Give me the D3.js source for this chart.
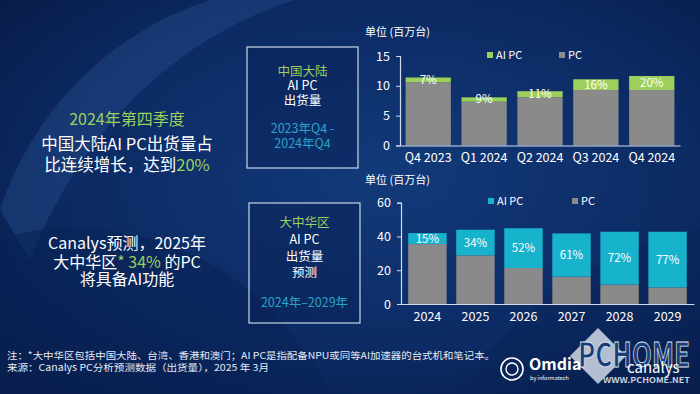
<!DOCTYPE html>
<html>
<head>
<meta charset="utf-8">
<script src="https://cdn.jsdelivr.net/npm/d3@7"></script>
<style>
  html, body { margin: 0; padding: 0; background: #0b2558; }
  svg { display: block; }
  text { font-family: "Noto Sans CJK SC", "Noto Sans", sans-serif; }
</style>
</head>
<body>
<script>
// 中国大陆 季度出货量 (百万台)
var quarters = ["Q4 2023", "Q1 2024", "Q2 2024", "Q3 2024", "Q4 2024"];
var cnPC = [10.6, 7.35, 8.1, 9.3, 9.3];
var cnAI = [0.8, 0.72, 1.0, 1.8, 2.35];
var cnShare = ["7%", "9%", "11%", "16%", "20%"];
var cnTicks = [0, 5, 10, 15];

// 大中华区 年度预测 (百万台)
var years = ["2024", "2025", "2026", "2027", "2028", "2029"];
var gcPC = [35.5, 28.8, 21.3, 16.2, 11.5, 9.8];
var gcAI = [6.5, 15.2, 23.6, 25.6, 31.3, 33.0];
var gcShare = ["15%", "34%", "52%", "61%", "72%", "77%"];
var gcTicks = [0, 20, 40, 60];

var W = 700, H = 394;
var green = "#9ccf5c", cyan = "#17b2cc", gray = "#8a8a8a";

var svg = d3.select("body").append("svg")
  .attr("width", W).attr("height", H);

// 背景
var defs = svg.append("defs");
var bg = defs.append("radialGradient").attr("id", "bg")
  .attr("cx", "55%").attr("cy", "45%").attr("r", "75%");
bg.append("stop").attr("offset", "0%").attr("stop-color", "#123a7a");
bg.append("stop").attr("offset", "60%").attr("stop-color", "#0c2a63");
bg.append("stop").attr("offset", "100%").attr("stop-color", "#071a45");
svg.append("rect").attr("width", W).attr("height", H).attr("fill", "url(#bg)");

// 装饰弧线
svg.append("path")
  .attr("d", "M0,210 C40,90 140,10 250,-10 L330,-10 C200,20 90,110 30,260 Z")
  .attr("fill", "#2a5796").attr("opacity", 0.35);
svg.append("path")
  .attr("d", "M0,240 C60,215 180,225 260,300 C300,340 320,370 330,394 L0,394 Z")
  .attr("fill", "#0a2256").attr("opacity", 0.55);
svg.append("path")
  .attr("d", "M460,394 C520,300 600,250 700,230 L700,394 Z")
  .attr("fill", "#0a2154").attr("opacity", 0.35);

// 左侧文字
var left = svg.append("g").attr("text-anchor", "middle");
left.append("text").attr("x", 127).attr("y", 125)
  .attr("font-size", 16).attr("fill", green).text("2024年第四季度");
left.append("text").attr("x", 127).attr("y", 150)
  .attr("font-size", 16.5).attr("fill", "#fff").text("中国大陆AI PC出货量占");
var l3 = left.append("text").attr("x", 127).attr("y", 171)
  .attr("font-size", 16.5).attr("fill", "#fff");
l3.append("tspan").text("比连续增长，达到");
l3.append("tspan").attr("fill", green).text("20%");

left.append("text").attr("x", 127).attr("y", 249)
  .attr("font-size", 16).attr("fill", "#fff").text("Canalys预测，2025年");
var l5 = left.append("text").attr("x", 127).attr("y", 268)
  .attr("font-size", 16).attr("fill", "#fff");
l5.append("tspan").text("大中华区");
l5.append("tspan").attr("fill", green).text("* 34%");
l5.append("tspan").text(" 的PC");
left.append("text").attr("x", 127).attr("y", 285)
  .attr("font-size", 16).attr("fill", "#fff").text("将具备AI功能");

// 标题框
function titleBox(x, y, w, h, lines) {
  var g = svg.append("g");
  g.append("rect").attr("x", x).attr("y", y).attr("width", w).attr("height", h)
    .attr("fill", "#0a2257").attr("fill-opacity", 0.5)
    .attr("stroke", "#c9d6e8").attr("stroke-width", 1.2);
  g.selectAll("text").data(lines).enter().append("text")
    .attr("x", x + w / 2).attr("y", function(d) { return d.y; })
    .attr("text-anchor", "middle").attr("font-size", 12.5)
    .attr("fill", function(d) { return d.c; })
    .text(function(d) { return d.t; });
}
titleBox(247, 47, 111, 121, [
  {t: "中国大陆", y: 76, c: green},
  {t: "AI PC", y: 90, c: "#fff"},
  {t: "出货量", y: 105, c: "#fff"},
  {t: "2023年Q4 -", y: 133, c: "#2aa3c8"},
  {t: "2024年Q4", y: 148, c: "#2aa3c8"}
]);
titleBox(249, 203, 111, 120, [
  {t: "大中华区", y: 227, c: green},
  {t: "AI PC", y: 244, c: "#fff"},
  {t: "出货量", y: 261, c: "#fff"},
  {t: "预测", y: 277, c: "#fff"},
  {t: "2024年–2029年", y: 307, c: "#2aa3c8"}
]);

// 堆叠柱状图
function stackChart(opt) {
  var g = svg.append("g");
  var x = d3.scaleBand().domain(opt.cats).range(opt.xr)
    .paddingInner(opt.pi).paddingOuter(opt.po);
  var y = d3.scaleLinear().domain(opt.yd).range(opt.yr);

  g.append("text").attr("x", opt.unitX).attr("y", opt.unitY)
    .attr("font-size", 11).attr("fill", "#fff").text("单位 (百万台)");

  var rows = opt.cats.map(function(c, i) {
    return {cat: c, pc: opt.pc[i], ai: opt.ai[i], share: opt.share[i]};
  });
  var stack = d3.stack().keys(["pc", "ai"])(rows);
  var colors = {pc: gray, ai: opt.aiColor};

  g.selectAll("g.layer").data(stack).enter().append("g")
    .attr("fill", function(d) { return colors[d.key]; })
    .selectAll("rect").data(function(d) { return d; }).enter().append("rect")
    .attr("x", function(d) { return x(d.data.cat); })
    .attr("width", x.bandwidth())
    .attr("y", function(d) { return y(d[1]); })
    .attr("height", function(d) { return y(d[0]) - y(d[1]); });

  // 占比标签, 放在AI段中间
  g.selectAll("text.lbl").data(stack[1]).enter().append("text")
    .attr("x", function(d) { return x(d.data.cat) + x.bandwidth() / 2; })
    .attr("y", function(d) { return (y(d[0]) + y(d[1])) / 2 + 4; })
    .attr("text-anchor", "middle").attr("font-size", 11.5).attr("fill", "#fff")
    .text(function(d) { return d.data.share; });

  var yAxis = g.append("g").attr("transform", "translate(" + opt.xr[0] + ",0)")
    .call(d3.axisLeft(y).tickValues(opt.ticks).tickSize(4).tickPadding(6));
  yAxis.select(".domain").attr("stroke", "#cfdcef").attr("stroke-width", 1.2);
  yAxis.selectAll(".tick line").attr("stroke", "#cfdcef");
  yAxis.selectAll("text").attr("fill", "#fff").attr("font-size", 12.5)
    .attr("font-family", "Noto Sans CJK SC");

  var xAxis = g.append("g").attr("transform", "translate(0," + opt.yr[0] + ")")
    .call(d3.axisBottom(x).tickSize(0).tickPadding(8));
  xAxis.select(".domain").attr("stroke", "#cfdcef").attr("stroke-width", 1.2);
  xAxis.selectAll("text").attr("fill", "#fff").attr("font-size", 12.5)
    .attr("font-family", "Noto Sans CJK SC");

  // 图例
  var lg = g.append("g");
  lg.append("rect").attr("x", opt.lgX[0]).attr("y", opt.lgY - 5)
    .attr("width", 6).attr("height", 6).attr("fill", opt.aiColor);
  lg.append("text").attr("x", opt.lgX[0] + 9).attr("y", opt.lgY + 2)
    .attr("font-size", 11).attr("fill", "#fff").text("AI PC");
  lg.append("rect").attr("x", opt.lgX[1]).attr("y", opt.lgY - 5)
    .attr("width", 6).attr("height", 6).attr("fill", gray);
  lg.append("text").attr("x", opt.lgX[1] + 9).attr("y", opt.lgY + 2)
    .attr("font-size", 11).attr("fill", "#fff").text("PC");
}

stackChart({
  cats: quarters, pc: cnPC, ai: cnAI, share: cnShare, ticks: cnTicks,
  xr: [400, 680], yd: [0, 15], yr: [145.5, 56], pi: 0.19, po: 0.1,
  aiColor: green, unitX: 365, unitY: 36, lgX: [487, 559], lgY: 57
});
stackChart({
  cats: years, pc: gcPC, ai: gcAI, share: gcShare, ticks: gcTicks,
  xr: [401, 694], yd: [0, 60], yr: [304, 202.7], pi: 0.2, po: 0.15,
  aiColor: cyan, unitX: 365, unitY: 184, lgX: [488, 572], lgY: 203
});

// 脚注
var foot = svg.append("g").attr("fill", "#e6ecf5").attr("font-size", 9.5);
foot.append("text").attr("x", 7).attr("y", 359)
  .attr("textLength", 488).attr("lengthAdjust", "spacingAndGlyphs")
  .text("注：*大中华区包括中国大陆、台湾、香港和澳门；AI PC是指配备NPU或同等AI加速器的台式机和笔记本。");
foot.append("text").attr("x", 7).attr("y", 371)
  .attr("textLength", 262).attr("lengthAdjust", "spacingAndGlyphs")
  .text("来源：Canalys PC分析预测数据（出货量），2025 年 3月");

// 标志与水印
var logo = svg.append("g");
logo.append("path")
  .attr("d", "M598,328 L626,356 L598,384 L570,356 Z")
  .attr("fill", "#dfe6f0").attr("opacity", 0.8);
logo.append("circle").attr("cx", 512).attr("cy", 369).attr("r", 11)
  .attr("fill", "none").attr("stroke", "#fff").attr("stroke-width", 1.6);
logo.append("circle").attr("cx", 512).attr("cy", 369).attr("r", 6)
  .attr("fill", "none").attr("stroke", "#fff").attr("stroke-width", 1.4);
logo.append("text").attr("x", 529).attr("y", 370).attr("font-size", 16)
  .attr("font-weight", "bold").attr("fill", "#fff")
  .attr("font-family", "Open Sans").text("Omdia");
logo.append("text").attr("x", 530).attr("y", 380).attr("font-size", 5.5)
  .attr("fill", "#fff").text("by informatech");
logo.append("text").attr("x", 578).attr("y", 367).attr("font-size", 34)
  .attr("font-weight", "bold").attr("fill", "#1b3c78")
  .attr("stroke", "#dfe6f0").attr("stroke-width", 0.8)
  .attr("textLength", 112).attr("lengthAdjust", "spacingAndGlyphs")
  .attr("font-family", "Liberation Sans Narrow, Liberation Sans").text("PCHOME");
logo.append("text").attr("x", 627).attr("y", 373).attr("font-size", 15)
  .attr("fill", "#fff").attr("font-family", "Open Sans").text("canalys");
logo.append("text").attr("x", 603).attr("y", 383).attr("font-size", 7.5)
  .attr("font-weight", "bold").attr("fill", "#c8d0dc")
  .attr("textLength", 87).attr("lengthAdjust", "spacingAndGlyphs")
  .attr("font-family", "Liberation Sans").text("WWW.PCHOME.NET");
</script>
</body>
</html>
